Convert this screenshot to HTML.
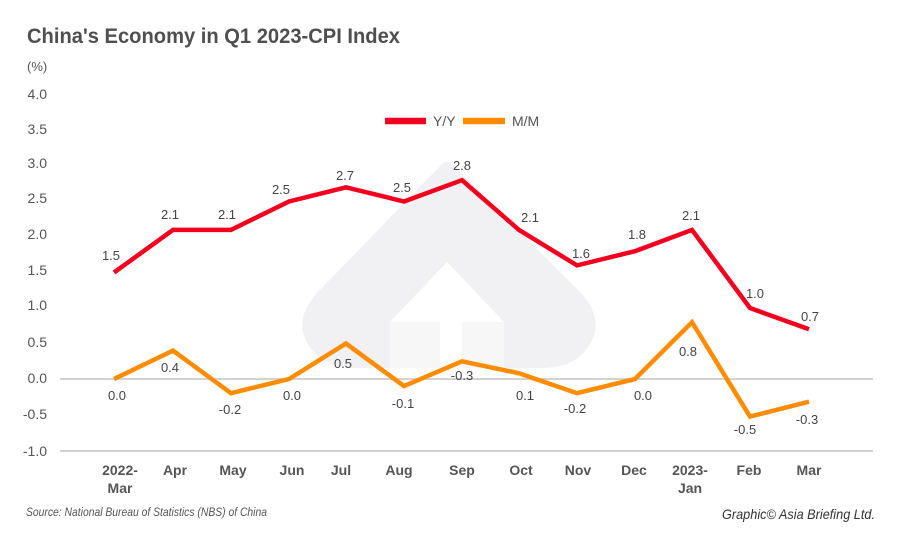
<!DOCTYPE html>
<html>
<head>
<meta charset="utf-8">
<style>
  html, body { margin: 0; padding: 0; background: #ffffff; }
  svg { display: block; }
  text { font-family: "Liberation Sans", "DejaVu Sans", sans-serif; }
</style>
</head>
<body>
<svg width="900" height="536" viewBox="0 0 900 536" xmlns="http://www.w3.org/2000/svg">
  <rect x="0" y="0" width="900" height="536" fill="#ffffff"/>

  <!-- watermark -->
  <path d="M440,166 Q447,158 454,166 L580,292 Q608,322 586,350 Q572,368 540,368 L358,368 Q326,368 312,350 Q290,322 318,292 Z" fill="#f1f1f3"/>
  <path d="M447,262 L390,322 L504,322 Z" fill="#ffffff"/>
  <rect x="390" y="322" width="50" height="46" fill="#f7f7f8"/>
  <rect x="462" y="322" width="42" height="46" fill="#f7f7f8"/>
  <rect x="440" y="322" width="22" height="46" fill="#ffffff"/>

  <!-- title -->
  <text x="27" y="43" font-size="21" font-weight="bold" fill="#4f4f4f" textLength="373" lengthAdjust="spacingAndGlyphs">China's Economy in Q1 2023-CPI Index</text>
  <text x="27" y="71" font-size="13" fill="#555">(%)</text>

  <!-- y tick labels -->
  <g font-size="14" fill="#555" text-anchor="end">
    <text x="47" y="99">4.0</text>
    <text x="47" y="134">3.5</text>
    <text x="47" y="168">3.0</text>
    <text x="47" y="203">2.5</text>
    <text x="47" y="239">2.0</text>
    <text x="47" y="275">1.5</text>
    <text x="47" y="310">1.0</text>
    <text x="47" y="347">0.5</text>
    <text x="47" y="383">0.0</text>
    <text x="47" y="419">-0.5</text>
    <text x="47" y="456">-1.0</text>
  </g>

  <!-- gridlines -->
  <line x1="60" y1="379" x2="873" y2="379" stroke="#d2d2d2" stroke-width="2"/>
  <line x1="60" y1="451" x2="873" y2="451" stroke="#d2d2d2" stroke-width="2"/>

  <!-- legend -->
  <line x1="385" y1="121" x2="426" y2="121" stroke="#f3001f" stroke-width="6.5"/>
  <text x="433" y="126" font-size="14" fill="#555">Y/Y</text>
  <line x1="463" y1="121" x2="505" y2="121" stroke="#ff8c00" stroke-width="6.5"/>
  <text x="512" y="126" font-size="14" fill="#555">M/M</text>

  <!-- series -->
  <polyline fill="none" stroke="#f3001f" stroke-width="4.5" stroke-linejoin="miter"
    points="114,272.5 173,229.9 231,229.9 289,201.5 346,187.3 404,201.5 462,180.2 519,229.9 577,265.4 635,251.2 692,229.9 750,308 809,329.3"/>
  <polyline fill="none" stroke="#ff8c00" stroke-width="4.5" stroke-linejoin="miter"
    points="114,379 173,350.6 231,393.2 289,379 346,343.5 404,386.1 462,361.3 519,373.3 577,393.2 635,379 692,322.2 750,416.6 809,401.7"/>

  <!-- Y/Y labels -->
  <g font-size="13" fill="#444" text-anchor="middle">
    <text x="111" y="260">1.5</text>
    <text x="170" y="219">2.1</text>
    <text x="227" y="219">2.1</text>
    <text x="281" y="194">2.5</text>
    <text x="345" y="180">2.7</text>
    <text x="402" y="192">2.5</text>
    <text x="462" y="170">2.8</text>
    <text x="530" y="222">2.1</text>
    <text x="581" y="258">1.6</text>
    <text x="637" y="239">1.8</text>
    <text x="691" y="220">2.1</text>
    <text x="755" y="298">1.0</text>
    <text x="810" y="321">0.7</text>
  </g>

  <!-- M/M labels -->
  <g font-size="13" fill="#444" text-anchor="middle">
    <text x="117" y="400">0.0</text>
    <text x="170" y="372">0.4</text>
    <text x="230" y="414">-0.2</text>
    <text x="292" y="400">0.0</text>
    <text x="343" y="368">0.5</text>
    <text x="403" y="408">-0.1</text>
    <text x="462" y="380">-0.3</text>
    <text x="525" y="400">0.1</text>
    <text x="575" y="413">-0.2</text>
    <text x="643" y="400">0.0</text>
    <text x="688" y="356">0.8</text>
    <text x="745" y="434">-0.5</text>
    <text x="807" y="424">-0.3</text>
  </g>

  <!-- x labels -->
  <g font-size="14" font-weight="bold" fill="#555" text-anchor="middle">
    <text x="120" y="475">2022-</text>
    <text x="120" y="493">Mar</text>
    <text x="175" y="475">Apr</text>
    <text x="233" y="475">May</text>
    <text x="292" y="475">Jun</text>
    <text x="341" y="475">Jul</text>
    <text x="399" y="475">Aug</text>
    <text x="462" y="475">Sep</text>
    <text x="521" y="475">Oct</text>
    <text x="578" y="475">Nov</text>
    <text x="634" y="475">Dec</text>
    <text x="690" y="475">2023-</text>
    <text x="690" y="493">Jan</text>
    <text x="749" y="475">Feb</text>
    <text x="809" y="475">Mar</text>
  </g>

  <!-- footer -->
  <text x="26" y="516" font-size="12" font-style="italic" fill="#555" textLength="241" lengthAdjust="spacingAndGlyphs">Source: National Bureau of Statistics (NBS) of China</text>
  <text x="722" y="519" font-size="14" font-style="italic" fill="#333" textLength="153" lengthAdjust="spacingAndGlyphs">Graphic© Asia Briefing Ltd.</text>
</svg>
</body>
</html>
